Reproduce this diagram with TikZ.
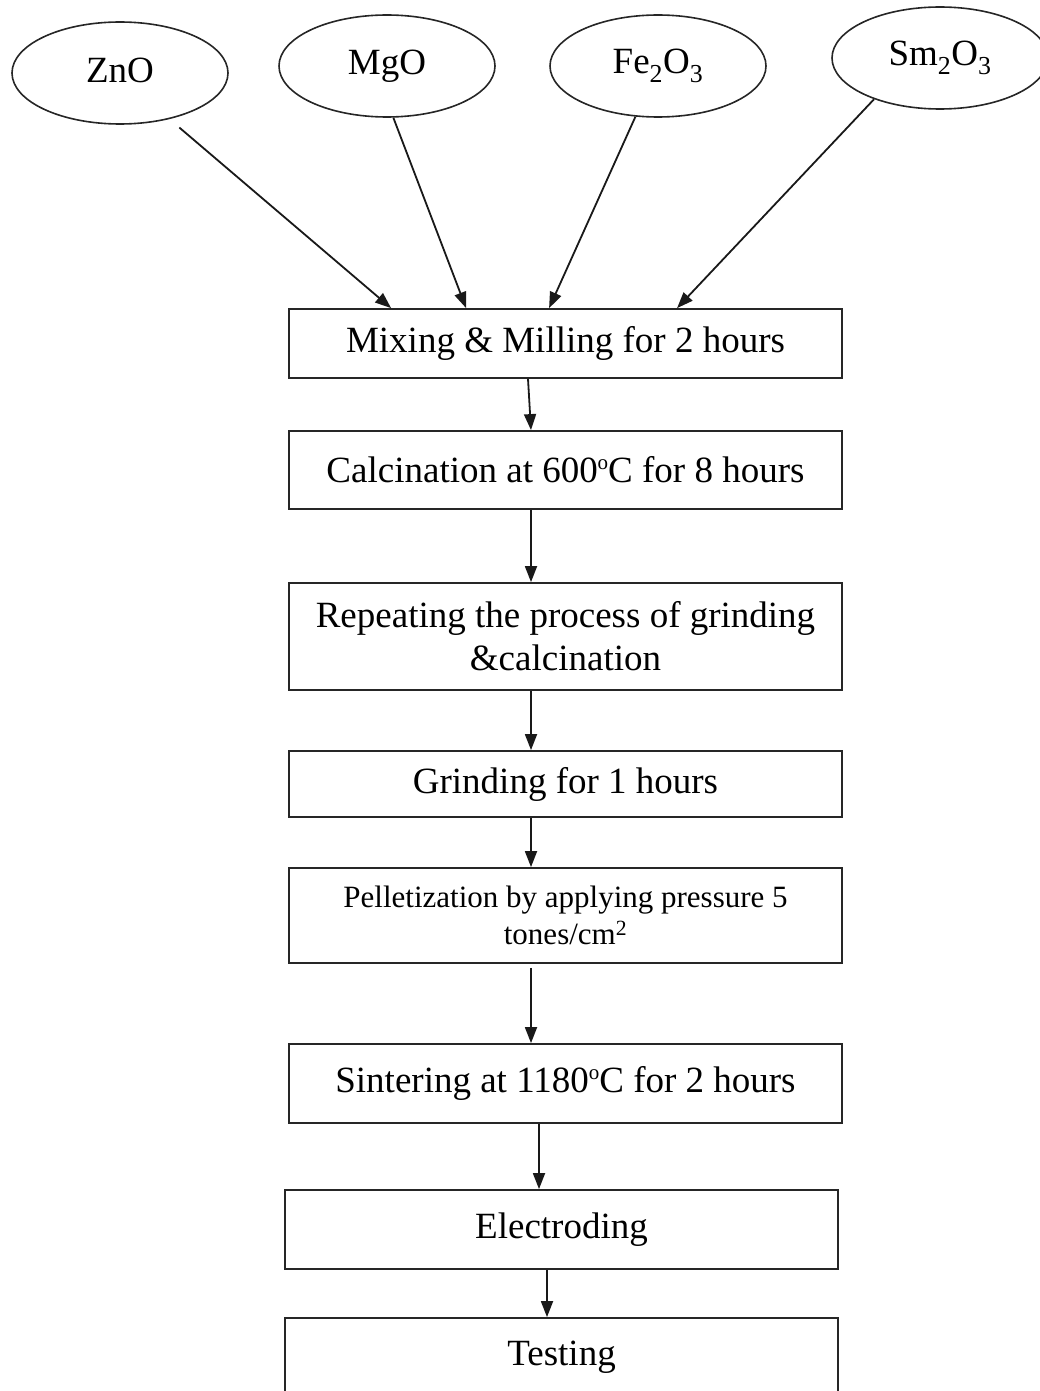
\documentclass[tikz,border=0pt]{standalone}
\usepackage{fontspec}
\setmainfont{Liberation Serif}
\usetikzlibrary{
	arrows.meta,
	shapes.geometric,
	positioning
}
\newcommand{\degsign}{\raisebox{0.36em}{\fontsize{21}{21}\selectfont o}}

\begin{document}
\begin{tikzpicture}[x=1pt,y=-1pt,
	oxide/.style={ellipse,draw=black!85,line width=1.6pt,minimum width=216pt,minimum height=102pt,inner sep=0pt,font=\fontsize{37}{43}\selectfont},
	stepbox/.style={rectangle,draw=black!85,line width=1.8pt,minimum width=553pt,inner sep=0pt,align=center,font=\fontsize{37}{43}\selectfont},
	flow/.style={-{Triangle[length=16pt,width=12pt]},line width=1.8pt,black!90}]
		\useasboundingbox (0,0) rectangle (1040,1391);
		
		% 原料
		\node[oxide] (ZnO) at (120,73) {\raisebox{5pt}{ZnO}};
		\node[oxide] (MgO) at (387,66) {MgO};
		\node[oxide] (FeO) at (658,66) {Fe\textsubscript{2}O\textsubscript{3}};
		\node[oxide] (SmO) at (940,58) {Sm\textsubscript{2}O\textsubscript{3}};
		
		% 流程框
		\node[stepbox,minimum height=69pt] (mix) at (565.5,343.5) {Mixing \& Milling for 2 hours};
		\node[stepbox,minimum height=78pt] (calc) at (565.5,470) {Calcination at 600\degsign C for 8 hours};
		\node[stepbox,minimum height=107pt] (rep) at (565.5,636.5) {Repeating the process of grinding\\\&calcination};
		\node[stepbox,minimum height=66pt] (grind) at (565.5,784) {Grinding for 1 hours};
		\node[stepbox,minimum height=95pt,font=\fontsize{31}{37}\selectfont] (pell) at (565.5,915.5) {Pelletization by applying pressure 5\\tones/cm\textsuperscript{2}};
		\node[stepbox,minimum height=79pt] (sint) at (565.5,1083.5) {Sintering at 1180\degsign C for 2 hours};
		\node[stepbox,minimum height=79pt] (elec) at (561.5,1229.5) {Electroding};
		\node[stepbox,minimum height=79pt] (test) at (561.5,1357.5) {Testing};
		
		% 箭头落点
		\coordinate (inZnO) at ([xshift=103pt]mix.north west);
		\coordinate (inMgO) at ([xshift=178pt]mix.north west);
		\coordinate (inFeO) at ([xshift=261pt]mix.north west);
		\coordinate (inSmO) at ([xshift=389pt]mix.north west);
		
		% 原料到混合
		\draw[flow,shorten <=13pt] (ZnO.-43.5) -- (inZnO);
		\draw[flow] (MgO.-83.4) -- (inMgO);
		\draw[flow] (FeO.-114.3) -- (inFeO);
		\draw[flow] (SmO.-148.2) -- (inSmO);
		
		% 流程箭头
		\draw[flow] ([xshift=-37.5pt]mix.south) -- ([xshift=-34.5pt]calc.north);
		\draw[flow] ([xshift=-34.5pt]calc.south) -- ([xshift=-34.5pt]rep.north);
		\draw[flow] ([xshift=-34.5pt]rep.south) -- ([xshift=-34.5pt]grind.north);
		\draw[flow] ([xshift=-34.5pt]grind.south) -- ([xshift=-34.5pt]pell.north);
		\draw[flow,shorten <=4pt] ([xshift=-34.5pt]pell.south) -- ([xshift=-34.5pt]sint.north);
		\draw[flow] ([xshift=-26.5pt]sint.south) -- ([xshift=-22.5pt]elec.north);
		\draw[flow] ([xshift=-14.5pt]elec.south) -- ([xshift=-14.5pt]test.north);
	\end{tikzpicture}
\end{document}
